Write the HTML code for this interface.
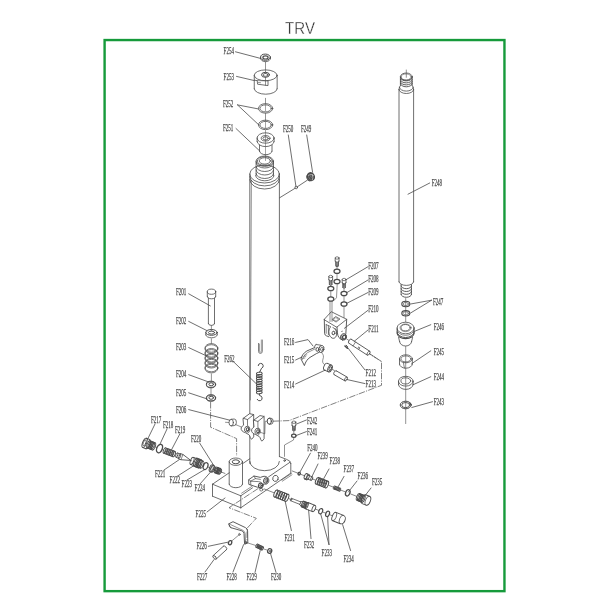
<!DOCTYPE html>
<html lang="en"><head><meta charset="utf-8"><title>TRV</title>
<style>
html,body{margin:0;padding:0;background:#fff}
body{width:600px;height:600px;position:relative;overflow:hidden;font-family:"Liberation Sans",sans-serif}
svg{position:absolute;left:0;top:0;will-change:transform;transform:translateZ(0)}
svg .d{fill:none;stroke:#4a4a4a;stroke-width:0.8;stroke-linecap:round;stroke-linejoin:round}
svg text{font-family:"Liberation Serif",serif;fill:#4a4a4a;stroke:#4a4a4a;stroke-width:0.25px}
svg text.ttl{font-family:"Liberation Sans",sans-serif;font-size:17px;fill:#2a2a2a;stroke:#fff;stroke-width:0.35px}
</style></head><body>
<svg width="600" height="600" viewBox="0 0 600 600">
<text class="ttl" x="285.1" y="33.7" textLength="29.9" lengthAdjust="spacingAndGlyphs">TRV</text>
<g class="d">
<rect x="104.6" y="40.05" width="399.85" height="551.1" fill="none" stroke="#169a3b" stroke-width="2.4" stroke-linejoin="miter"/>
<ellipse cx="264.6" cy="174" rx="14.8" ry="9"/>
<path d="M249.8 176.6 A14.8 9.3 0 0 0 279.4 176.6"/>
<path d="M249.8 179.6 A14.8 9.4 0 0 0 279.4 179.6"/>
<line x1="249.8" y1="174" x2="249.8" y2="463.5"/>
<line x1="279.4" y1="174" x2="279.4" y2="456.5"/>
<line x1="251.4" y1="180.5" x2="250.3" y2="400" stroke-width="0.6"/>
<path d="M249.8 461.5 A14.8 9.2 0 0 0 279.4 461.5"/>
<ellipse cx="264.8" cy="161.2" rx="8.7" ry="5.2"/>
<ellipse cx="264.8" cy="161.1" rx="7.5" ry="4.4"/>
<ellipse cx="264.8" cy="160.9" rx="5.6" ry="3.2"/>
<line x1="256.1" y1="161.2" x2="256.1" y2="175.4"/>
<line x1="273.5" y1="161.2" x2="273.5" y2="175.4"/>
<path d="M256.1 163 A8.7 5 0 0 0 273.5 163"/>
<path d="M256.1 166.5 A8.7 5 0 0 0 273.5 166.5"/>
<path d="M256.1 170 A8.7 5 0 0 0 273.5 170"/>
<path d="M256.1 173.5 A8.7 5 0 0 0 273.5 173.5"/>
<path d="M255.6 175.6 A9.2 5.2 0 0 0 274 175.6"/>
<ellipse cx="265.5" cy="57.2" rx="4.9" ry="3.1" stroke-width="1"/>
<ellipse cx="265.5" cy="57.4" rx="2.6" ry="1.6" stroke-width="1.2"/>
<line x1="260.6" y1="57.2" x2="260.6" y2="58.6"/>
<line x1="270.4" y1="57.2" x2="270.4" y2="58.6"/>
<path d="M260.6 58.6 A4.9 3.1 0 0 0 270.4 58.6"/>
<line x1="265.5" y1="61.8" x2="265.5" y2="73.5" stroke-width="0.6"/>
<ellipse cx="265.7" cy="75.3" rx="11.45" ry="5.4"/>
<line x1="254.25" y1="75.3" x2="254.25" y2="88.8"/>
<line x1="277.15" y1="75.3" x2="277.15" y2="88.8"/>
<path d="M254.25 88.8 A11.45 5.4 0 0 0 277.15 88.8"/>
<ellipse cx="265.5" cy="74.8" rx="4" ry="2.5" stroke-width="1"/>
<ellipse cx="265.5" cy="74.9" rx="2.4" ry="1.4"/>
<path d="M254.4 80.2 L257.2 80.6 L257.6 84.2 L268 85.6 L268 80.9"/>
<line x1="257.2" y1="80.6" x2="267.8" y2="80.9" stroke-width="0.6"/>
<line x1="265.5" y1="77.4" x2="265.5" y2="85.2" stroke-width="0.6"/>
<line x1="258.5" y1="82.5" x2="260.5" y2="82.7" stroke-width="0.6"/>
<line x1="265.5" y1="98.3" x2="265.5" y2="104" stroke-width="0.6"/>
<line x1="265.5" y1="105" x2="265.5" y2="111" stroke-width="0.5"/>
<line x1="265.5" y1="113.5" x2="265.5" y2="121" stroke-width="0.6"/>
<line x1="265.5" y1="122" x2="265.5" y2="128" stroke-width="0.5"/>
<line x1="265.5" y1="130.5" x2="265.5" y2="156" stroke-width="0.5"/>
<ellipse cx="265.6" cy="108.4" rx="7.15" ry="4.75"/>
<ellipse cx="265.6" cy="108.4" rx="5.7" ry="3.55"/>
<ellipse cx="265.6" cy="124.9" rx="7.15" ry="4.75"/>
<ellipse cx="265.6" cy="124.9" rx="5.7" ry="3.55"/>
<ellipse cx="265.6" cy="138" rx="8.5" ry="5.2"/>
<line x1="257.1" y1="138" x2="257.1" y2="141.4"/>
<line x1="274.1" y1="138" x2="274.1" y2="141.4"/>
<path d="M257.1 141.4 A8.5 5.2 0 0 0 274.1 141.4"/>
<ellipse cx="265.6" cy="138.3" rx="4.4" ry="2.7"/>
<ellipse cx="265.6" cy="138.4" rx="2.7" ry="1.6"/>
<line x1="259.5" y1="144.8" x2="259.5" y2="151.2"/>
<line x1="272" y1="144.8" x2="272" y2="151.2"/>
<path d="M259.5 151.2 A6.25 3.5 0 0 0 272 151.2"/>
<line x1="265.5" y1="157" x2="265.5" y2="160.5" stroke-width="0.5"/>
<text x="223.6" y="54.2" textLength="10.3" lengthAdjust="spacingAndGlyphs" font-size="9.4">F254</text>
<line x1="235.5" y1="51.8" x2="260.5" y2="58.4"/>
<text x="223.6" y="79.6" textLength="10.3" lengthAdjust="spacingAndGlyphs" font-size="9.4">F253</text>
<line x1="236.5" y1="76.4" x2="254" y2="80.5"/>
<text x="223" y="106.6" textLength="10.3" lengthAdjust="spacingAndGlyphs" font-size="9.4">F252</text>
<line x1="237.5" y1="104.9" x2="258.2" y2="108.9"/>
<line x1="237.5" y1="104.9" x2="259" y2="125.1"/>
<text x="223" y="131.2" textLength="10.3" lengthAdjust="spacingAndGlyphs" font-size="9.4">F251</text>
<line x1="236" y1="128.5" x2="259.5" y2="150.8"/>
<text x="283" y="132.4" textLength="10.3" lengthAdjust="spacingAndGlyphs" font-size="9.4">F250</text>
<line x1="288.3" y1="135" x2="295.9" y2="186.2"/>
<text x="301" y="132.4" textLength="10.3" lengthAdjust="spacingAndGlyphs" font-size="9.4">F249</text>
<line x1="306.7" y1="135" x2="312.6" y2="172.3"/>
<ellipse cx="296.2" cy="187.5" rx="1.3" ry="1.3"/>
<line x1="279.6" y1="197.8" x2="295.2" y2="188.2"/>
<line x1="297.3" y1="186.8" x2="307.3" y2="180.2"/>
<ellipse cx="310.9" cy="176.6" rx="3.3" ry="3.9" stroke-width="1.5" fill="#777" transform="rotate(-25 310.9 176.6)"/>
<ellipse cx="311.6" cy="176.2" rx="2" ry="2.6" stroke-width="1.1" transform="rotate(-25 311.6 176.2)"/>
<ellipse cx="309.6" cy="177.6" rx="2.6" ry="3.3" stroke-width="1" transform="rotate(-25 309.6 177.6)"/>
<path d="M308.4 175.2 Q311 173.2 313.4 175.4 M312.6 174.6 Q313.4 177.4 312.4 180" stroke="#ddd" stroke-width="0.6"/>
<ellipse cx="211.5" cy="291.7" rx="4.2" ry="2.6"/>
<line x1="207.3" y1="291.7" x2="207.3" y2="296.3"/>
<line x1="215.7" y1="291.7" x2="215.7" y2="296.3"/>
<path d="M207.3 296.3 A4.2 2.5 0 0 0 215.7 296.3"/>
<line x1="208.4" y1="298" x2="208.4" y2="323.6"/>
<line x1="214.5" y1="298" x2="214.5" y2="323.6"/>
<path d="M208.4 323.6 A3.05 1.8 0 0 0 214.5 323.6"/>
<line x1="211.4" y1="325.6" x2="211.4" y2="331" stroke-width="0.6"/>
<ellipse cx="211.5" cy="332.4" rx="5.7" ry="2.9" stroke-width="1"/>
<ellipse cx="211.5" cy="332.6" rx="3.1" ry="1.5" stroke-width="1"/>
<line x1="205.8" y1="332.4" x2="205.8" y2="334.9"/>
<line x1="217.2" y1="332.4" x2="217.2" y2="334.9"/>
<path d="M205.8 334.9 A5.7 2.9 0 0 0 217.2 334.9"/>
<line x1="211.4" y1="338.8" x2="211.4" y2="343.4" stroke-width="0.6"/>
<ellipse cx="211.4" cy="347.9" rx="6.4" ry="4.3" stroke-width="0.75"/>
<ellipse cx="211.4" cy="349" rx="6.4" ry="4.3" stroke-width="0.75"/>
<ellipse cx="211.4" cy="352.8" rx="6.4" ry="4.3" stroke-width="0.75"/>
<ellipse cx="211.4" cy="353.9" rx="6.4" ry="4.3" stroke-width="0.75"/>
<ellipse cx="211.4" cy="357.7" rx="6.4" ry="4.3" stroke-width="0.75"/>
<ellipse cx="211.4" cy="358.8" rx="6.4" ry="4.3" stroke-width="0.75"/>
<ellipse cx="211.4" cy="362.6" rx="6.4" ry="4.3" stroke-width="0.75"/>
<ellipse cx="211.4" cy="363.7" rx="6.4" ry="4.3" stroke-width="0.75"/>
<ellipse cx="211.4" cy="367.5" rx="6.4" ry="4.3" stroke-width="0.75"/>
<ellipse cx="211.4" cy="368.6" rx="6.4" ry="4.3" stroke-width="0.75"/>
<line x1="211.4" y1="374" x2="211.4" y2="381" stroke-width="0.6"/>
<ellipse cx="211" cy="384.3" rx="4.65" ry="3.1" stroke-width="1"/>
<ellipse cx="211" cy="384.9" rx="4.5" ry="3" stroke-width="0.7"/>
<ellipse cx="211.2" cy="384.3" rx="2.3" ry="1.5" stroke-width="1"/>
<ellipse cx="211" cy="397.8" rx="4.65" ry="3.1" stroke-width="1"/>
<ellipse cx="211" cy="398.4" rx="4.5" ry="3" stroke-width="0.7"/>
<ellipse cx="211.2" cy="397.8" rx="2.3" ry="1.5" stroke-width="1"/>
<line x1="211" y1="388.5" x2="211" y2="394.2" stroke-width="0.6"/>
<path d="M210.6 402 L210.6 427.2 L236.6 438.6 L236.6 456" stroke-width="0.7" stroke-dasharray="6.5 1.2 1.2 1.2" stroke-linecap="butt"/>
<text x="176" y="295" textLength="10.3" lengthAdjust="spacingAndGlyphs" font-size="9.4">F201</text>
<line x1="188.7" y1="293.8" x2="210.3" y2="305.9"/>
<text x="176" y="323.8" textLength="10.3" lengthAdjust="spacingAndGlyphs" font-size="9.4">F202</text>
<line x1="188.7" y1="321.4" x2="207.3" y2="330.8"/>
<text x="176" y="350.2" textLength="10.3" lengthAdjust="spacingAndGlyphs" font-size="9.4">F203</text>
<line x1="188.7" y1="347.6" x2="207.1" y2="356.2"/>
<text x="176" y="377.2" textLength="10.3" lengthAdjust="spacingAndGlyphs" font-size="9.4">F204</text>
<line x1="188.7" y1="374.7" x2="207.9" y2="381.7"/>
<text x="176" y="395.7" textLength="10.3" lengthAdjust="spacingAndGlyphs" font-size="9.4">F205</text>
<line x1="188.7" y1="392.8" x2="207.3" y2="399"/>
<text x="176" y="413.4" textLength="10.3" lengthAdjust="spacingAndGlyphs" font-size="9.4">F206</text>
<line x1="188.7" y1="409.6" x2="229.8" y2="420.2"/>
<text x="224.3" y="361.8" textLength="10.3" lengthAdjust="spacingAndGlyphs" font-size="9.4">F262</text>
<line x1="234" y1="362.2" x2="258" y2="385.4"/>
<ellipse cx="231.2" cy="422.6" rx="2.2" ry="3.3"/>
<path d="M231.2 419.3 L234.2 419.0 A2.2 3.3 0 0 1 234.2 425.6 L231.2 425.9"/>
<line x1="225.5" y1="422.3" x2="228.7" y2="422.5" stroke-width="0.6"/>
<path d="M258.5 343.4 L258.5 351.4 A1.9 2 0 0 0 262.3 351.4 L262.3 340" stroke-width="0.7"/>
<path d="M259.5 344 L259.5 351.2 A0.9 1 0 0 0 261.3 351.2 L261.3 340" stroke-width="0.5"/>
<path d="M258.2 365.6 A2.5 2.5 0 1 1 261.6 368.2 L259.4 372.4" stroke-width="1"/>
<ellipse cx="259.3" cy="373.6" rx="2.9" ry="1.5" stroke-width="0.95" transform="rotate(-8 259.3 373.6)"/>
<ellipse cx="259.3" cy="375.95" rx="2.9" ry="1.5" stroke-width="0.95" transform="rotate(-8 259.3 375.95)"/>
<ellipse cx="259.3" cy="378.3" rx="2.9" ry="1.5" stroke-width="0.95" transform="rotate(-8 259.3 378.3)"/>
<ellipse cx="259.3" cy="380.65" rx="2.9" ry="1.5" stroke-width="0.95" transform="rotate(-8 259.3 380.65)"/>
<ellipse cx="259.3" cy="383" rx="2.9" ry="1.5" stroke-width="0.95" transform="rotate(-8 259.3 383)"/>
<ellipse cx="259.3" cy="385.35" rx="2.9" ry="1.5" stroke-width="0.95" transform="rotate(-8 259.3 385.35)"/>
<ellipse cx="259.3" cy="387.7" rx="2.9" ry="1.5" stroke-width="0.95" transform="rotate(-8 259.3 387.7)"/>
<ellipse cx="259.3" cy="390.05" rx="2.9" ry="1.5" stroke-width="0.95" transform="rotate(-8 259.3 390.05)"/>
<ellipse cx="259.3" cy="392.4" rx="2.9" ry="1.5" stroke-width="0.95" transform="rotate(-8 259.3 392.4)"/>
<path d="M259.3 393.6 L259.6 395.6 A2.6 2.6 0 1 1 257.2 399.4" stroke-width="1"/>
<path d="M243.3 418.3 L249.55 413.7 L253.7 414.55 L253.7 436.9 L251.7 439.2 C249.9 438.9 250.5 435.9 248.9 434.7 L245.4 432.7 C242.7 431.9 240.7 430.3 241.2 427.9 C241.5 426.5 242.7 425.9 243.3 425.4 Z" stroke-width="0.85" fill="#fff"/>
<path d="M243.3 418.3 L247.5 419.55 L253.7 414.55" stroke-width="0.8"/>
<path d="M247.5 419.55 L247.5 425.7 C250.5 426.7 250.9 431.5 248.1 432.9" stroke-width="0.7"/>
<ellipse cx="246.9" cy="429.2" rx="2.3" ry="2.9" stroke-width="0.8" transform="rotate(15 246.9 429.2)"/>
<ellipse cx="247.5" cy="429.3" rx="1.2" ry="1.5" stroke-width="1" transform="rotate(15 247.5 429.3)"/>
<path d="M253.7 420.2 L259.95 415.6 L264.1 416.45 L264.1 438.8 L262.1 441.1 C260.3 440.8 260.9 437.8 259.3 436.6 L255.8 434.6 C253.1 433.8 251.1 432.2 251.6 429.8 C251.9 428.4 253.1 427.8 253.7 427.3 Z" stroke-width="0.85" fill="#fff"/>
<path d="M253.7 420.2 L257.9 421.45 L264.1 416.45" stroke-width="0.8"/>
<path d="M257.9 421.45 L257.9 427.6 C260.9 428.6 261.3 433.4 258.5 434.8" stroke-width="0.7"/>
<ellipse cx="257.3" cy="431.1" rx="2.3" ry="2.9" stroke-width="0.8" transform="rotate(15 257.3 431.1)"/>
<ellipse cx="257.9" cy="431.2" rx="1.2" ry="1.5" stroke-width="1" transform="rotate(15 257.9 431.2)"/>
<ellipse cx="269.3" cy="421.2" rx="2.1" ry="3" stroke-width="1"/>
<path d="M269.3 418.2 L271 418.2 A2.1 3 0 0 1 271 424.2 L269.3 424.2"/>
<line x1="235.6" y1="424.6" x2="241.4" y2="427" stroke-width="0.6"/>
<path d="M259.4 432 L264.8 433.8 L265.2 421.3 L267 421.2" stroke-width="0.6"/>
<path d="M272.8 421.2 L289 420.6 L381.5 385.3 L381.5 361.4 L370.2 354.4" stroke-width="0.7" stroke-dasharray="6.5 1.2 1.2 1.2" stroke-linecap="butt"/>
<line x1="212.5" y1="484.2" x2="229.2" y2="472.81"/>
<line x1="242.5" y1="463.74" x2="249.8" y2="458.76"/>
<line x1="212.5" y1="484.2" x2="240.8" y2="495.8"/>
<line x1="240.8" y1="495.8" x2="252.5" y2="487.82"/>
<line x1="268.5" y1="476.91" x2="290" y2="462.25"/>
<path d="M279.4 456.6 L286.6 459.4 Q290.6 460.4 290.8 463.5"/>
<line x1="212.5" y1="484.2" x2="212.5" y2="496.2"/>
<line x1="240.8" y1="495.8" x2="240.8" y2="507.8"/>
<line x1="290.8" y1="463.3" x2="290.8" y2="473.1"/>
<line x1="212.5" y1="496.2" x2="240.8" y2="507.8"/>
<line x1="240.8" y1="507.8" x2="290.8" y2="473.1"/>
<ellipse cx="284.6" cy="460.6" rx="0.8" ry="0.8" stroke-width="0.9"/>
<ellipse cx="275.5" cy="478.4" rx="2.7" ry="3.1" transform="rotate(20 275.5 478.4)"/>
<line x1="281.5" y1="480" x2="291.4" y2="473.6" stroke-width="0.6"/>
<line x1="282.3" y1="481.2" x2="292" y2="474.8" stroke-width="0.6"/>
<ellipse cx="235.85" cy="461.7" rx="6.65" ry="3.7"/>
<ellipse cx="235.85" cy="461.8" rx="3.6" ry="2" stroke-width="1"/>
<line x1="229.2" y1="461.7" x2="229.2" y2="484.2"/>
<line x1="242.5" y1="461.7" x2="242.5" y2="484.2"/>
<path d="M229.2 484.2 A6.65 3.5 0 0 0 242.5 484.2"/>
<text x="195.6" y="517.2" textLength="10.3" lengthAdjust="spacingAndGlyphs" font-size="9.4">F225</text>
<line x1="207" y1="512" x2="225" y2="498"/>
<g transform="translate(148.3 444.3) rotate(20.81)">
<line x1="-4" y1="-5" x2="-0.6" y2="-5" stroke-width="0.9"/>
<line x1="-4" y1="5" x2="-0.6" y2="5" stroke-width="0.9"/>
<ellipse cx="-4" cy="0" rx="2" ry="5" stroke-width="0.9"/>
<path d="M-0.6 -5 A2 5 0 0 1 -0.6 5" stroke-width="0.9"/>
<ellipse cx="-4" cy="0" rx="1.3" ry="3.2" stroke-width="0.8"/>
<ellipse cx="0.5" cy="0" rx="1.6" ry="3.9" stroke-width="0.9"/>
<ellipse cx="1.8" cy="0" rx="1.6" ry="3.9" stroke-width="0.9"/>
<ellipse cx="3.1" cy="0" rx="1.6" ry="3.9" stroke-width="0.9"/>
<ellipse cx="4.4" cy="0" rx="1.6" ry="3.9" stroke-width="0.9"/>
<ellipse cx="5.7" cy="0" rx="1.6" ry="3.9" stroke-width="0.9"/>
<line x1="-0.6" y1="-3.9" x2="5.7" y2="-3.9" stroke-width="0.6"/>
<line x1="-0.6" y1="3.9" x2="5.7" y2="3.9" stroke-width="0.6"/>
<ellipse cx="12" cy="0" rx="2.7" ry="4.4" stroke-width="1.3"/>
<ellipse cx="17.5" cy="0" rx="1.22" ry="2.9" stroke-width="0.9"/>
<ellipse cx="19.17" cy="0" rx="1.22" ry="2.9" stroke-width="0.9"/>
<ellipse cx="20.83" cy="0" rx="1.22" ry="2.9" stroke-width="0.9"/>
<ellipse cx="22.5" cy="0" rx="1.22" ry="2.9" stroke-width="0.9"/>
<ellipse cx="24.17" cy="0" rx="1.22" ry="2.9" stroke-width="0.9"/>
<ellipse cx="25.83" cy="0" rx="1.22" ry="2.9" stroke-width="0.9"/>
<ellipse cx="27.5" cy="0" rx="1.22" ry="2.9" stroke-width="0.9"/>
<line x1="17.5" y1="-2.9" x2="27.5" y2="-2.9" stroke-width="0.6"/>
<line x1="17.5" y1="2.9" x2="27.5" y2="2.9" stroke-width="0.6"/>
<line x1="30.5" y1="-2.3" x2="33.5" y2="-2.3"/>
<line x1="30.5" y1="2.3" x2="33.5" y2="2.3"/>
<ellipse cx="30.5" cy="0" rx="0.97" ry="2.3"/>
<path d="M33.5 -2.3 A0.97 2.3 0 0 1 33.5 2.3"/>
<path d="M33.5 -2.8 L36 -2.8 L44.5 -0.3 L44.5 0.3 L36 2.8 L33.5 2.8 Z"/>
<line x1="36" y1="-2.8" x2="36" y2="2.8" stroke-width="0.6"/>
<line x1="46.8" y1="-3.8" x2="50" y2="-3.8" stroke-width="0.9"/>
<line x1="46.8" y1="3.8" x2="50" y2="3.8" stroke-width="0.9"/>
<ellipse cx="46.8" cy="0" rx="1.6" ry="3.8" stroke-width="0.9"/>
<path d="M50 -3.8 A1.6 3.8 0 0 1 50 3.8" stroke-width="0.9"/>
<ellipse cx="51" cy="0" rx="1.8" ry="4.4" stroke-width="0.9"/>
<ellipse cx="52.4" cy="0" rx="1.8" ry="4.4" stroke-width="0.9"/>
<ellipse cx="53.8" cy="0" rx="1.8" ry="4.4" stroke-width="0.9"/>
<ellipse cx="55.2" cy="0" rx="1.8" ry="4.4" stroke-width="0.9"/>
<line x1="50" y1="-4.4" x2="55.2" y2="-4.4" stroke-width="0.6"/>
<line x1="50" y1="4.4" x2="55.2" y2="4.4" stroke-width="0.6"/>
<line x1="55.2" y1="-3.8" x2="57.3" y2="-3.8" stroke-width="0.8"/>
<line x1="55.2" y1="3.8" x2="57.3" y2="3.8" stroke-width="0.8"/>
<ellipse cx="57.3" cy="0" rx="1.6" ry="3.8" stroke-width="0.8"/>
<path d="M55.2 -3.8 A1.6 3.8 0 0 0 55.2 3.8" stroke-width="0.8"/>
<ellipse cx="61.3" cy="0" rx="2.2" ry="3.6" stroke-width="1.2"/>
<ellipse cx="67.8" cy="0" rx="2.2" ry="3.7" stroke-width="1"/>
<ellipse cx="68.9" cy="0" rx="2.2" ry="3.7" stroke-width="0.8"/>
<ellipse cx="68.3" cy="0" rx="1.1" ry="2" stroke-width="0.7"/>
<ellipse cx="72.4" cy="0" rx="1.4" ry="3.1" stroke-width="1"/>
<ellipse cx="73.5" cy="0" rx="1.4" ry="3.1" stroke-width="1"/>
<ellipse cx="74.6" cy="0" rx="1.4" ry="3.1" stroke-width="1"/>
<ellipse cx="75.7" cy="0" rx="1.4" ry="3.1" stroke-width="1"/>
<ellipse cx="76.8" cy="0" rx="1.3" ry="2.9" stroke-width="0.8"/>
<line x1="6.5" y1="0" x2="9" y2="0" stroke-width="0.6"/>
<line x1="14.8" y1="0" x2="16" y2="0" stroke-width="0.6"/>
<line x1="44.5" y1="0" x2="46.5" y2="0" stroke-width="0.6"/>
<line x1="58.5" y1="0" x2="59.5" y2="0" stroke-width="0.6"/>
<line x1="63.5" y1="0" x2="65.5" y2="0" stroke-width="0.6"/>
<line x1="78" y1="0" x2="82" y2="0" stroke-width="0.6"/>
</g>
<text x="151" y="423" textLength="10.3" lengthAdjust="spacingAndGlyphs" font-size="9.4">F217</text>
<line x1="155" y1="424" x2="147.4" y2="439.6"/>
<text x="163" y="428" textLength="10.3" lengthAdjust="spacingAndGlyphs" font-size="9.4">F218</text>
<line x1="167" y1="429" x2="159.6" y2="445"/>
<text x="175" y="433" textLength="10.3" lengthAdjust="spacingAndGlyphs" font-size="9.4">F219</text>
<line x1="180" y1="433.6" x2="171.6" y2="449.6"/>
<text x="191" y="442" textLength="10.3" lengthAdjust="spacingAndGlyphs" font-size="9.4">F220</text>
<line x1="199.6" y1="443" x2="215.6" y2="468.4"/>
<text x="155" y="476.6" textLength="10.3" lengthAdjust="spacingAndGlyphs" font-size="9.4">F221</text>
<line x1="164" y1="470" x2="179.3" y2="459.6"/>
<text x="169.6" y="483" textLength="10.3" lengthAdjust="spacingAndGlyphs" font-size="9.4">F222</text>
<line x1="177" y1="476.4" x2="193.3" y2="466"/>
<text x="181.6" y="487.2" textLength="10.3" lengthAdjust="spacingAndGlyphs" font-size="9.4">F223</text>
<line x1="187" y1="480" x2="204.2" y2="469.8"/>
<text x="194.6" y="491.2" textLength="10.3" lengthAdjust="spacingAndGlyphs" font-size="9.4">F224</text>
<line x1="200" y1="484" x2="210.6" y2="472"/>
<ellipse cx="406.3" cy="76.7" rx="5.9" ry="3.7"/>
<ellipse cx="406.3" cy="76.9" rx="4.9" ry="3" stroke-width="0.6"/>
<line x1="400.4" y1="76.7" x2="400.4" y2="85.6"/>
<line x1="412.2" y1="76.7" x2="412.2" y2="85.6"/>
<path d="M400.4 77.5 A5.9 3.4 0 0 0 412.2 77.5" stroke-width="0.9"/>
<path d="M400.4 79.5 A5.9 3.4 0 0 0 412.2 79.5" stroke-width="0.9"/>
<path d="M400.4 81.5 A5.9 3.4 0 0 0 412.2 81.5" stroke-width="0.9"/>
<path d="M400.4 83.4 A5.9 3.4 0 0 0 412.2 83.4" stroke-width="0.9"/>
<line x1="406.3" y1="70" x2="406.3" y2="77.3" stroke-width="0.6"/>
<path d="M400.4 85.6 Q399.1 86.4 399 89.4"/>
<path d="M412.2 85.6 Q413.5 86.4 413.6 89.4"/>
<path d="M399.4 87.2 A6.9 3.9 0 0 0 413.2 87.2"/>
<path d="M399 89.6 A7.3 3.9 0 0 0 413.6 89.6"/>
<line x1="399" y1="89.4" x2="399" y2="281.8"/>
<line x1="413.6" y1="89.4" x2="413.6" y2="281.8"/>
<path d="M399 281.8 A7.3 3.6 0 0 0 413.6 281.8"/>
<line x1="401.1" y1="284.6" x2="401.1" y2="294.4"/>
<line x1="411.5" y1="284.6" x2="411.5" y2="294.4"/>
<path d="M401.1 285.8 A5.2 2.9 0 0 0 411.5 285.8" stroke-width="0.9"/>
<path d="M401.1 288.6 A5.2 2.9 0 0 0 411.5 288.6" stroke-width="0.9"/>
<path d="M401.1 291.4 A5.2 2.9 0 0 0 411.5 291.4" stroke-width="0.9"/>
<path d="M401.1 294.4 A5.2 2.9 0 0 0 411.5 294.4" stroke-width="0.9"/>
<text x="431.8" y="186.2" textLength="10.3" lengthAdjust="spacingAndGlyphs" font-size="9.4">F248</text>
<line x1="429.7" y1="183" x2="408" y2="194.2"/>
<line x1="405.7" y1="298.5" x2="405.7" y2="322" stroke-width="0.6"/>
<line x1="405.7" y1="346.5" x2="405.7" y2="423.6" stroke-width="0.6"/>
<ellipse cx="405.8" cy="304" rx="4" ry="2.7" stroke-width="1.1"/>
<ellipse cx="405.8" cy="304" rx="2.6" ry="1.6" stroke-width="0.6"/>
<ellipse cx="405.8" cy="313.3" rx="4" ry="2.7" stroke-width="1.1"/>
<ellipse cx="405.8" cy="313.3" rx="2.6" ry="1.6" stroke-width="0.6"/>
<text x="433" y="305" textLength="10.3" lengthAdjust="spacingAndGlyphs" font-size="9.4">F247</text>
<line x1="431.6" y1="300.2" x2="410.6" y2="304"/>
<line x1="431.6" y1="300.2" x2="410.6" y2="313"/>
<ellipse cx="405.6" cy="328" rx="8.5" ry="5.8"/>
<ellipse cx="405.6" cy="327.7" rx="4.6" ry="3.2"/>
<ellipse cx="405.6" cy="327.8" rx="5.6" ry="3.9" stroke-width="0.5"/>
<line x1="397.1" y1="328" x2="397.1" y2="333"/>
<line x1="414.1" y1="328" x2="414.1" y2="333"/>
<path d="M397.1 329.6 A8.5 5.7 0 0 0 414.1 329.6" stroke-width="0.7"/>
<path d="M397.1 331.9 A8.5 5.6 0 0 0 414.1 331.9" stroke-width="1"/>
<path d="M397.1 333 A8.5 5.6 0 0 0 414.1 333" stroke-width="1.1"/>
<line x1="398.6" y1="337.4" x2="399.6" y2="341.6"/>
<line x1="412.6" y1="337.4" x2="411.6" y2="341.6"/>
<path d="M399.6 341.6 A6 4.4 0 0 0 411.6 341.6"/>
<text x="433.8" y="329.6" textLength="10.3" lengthAdjust="spacingAndGlyphs" font-size="9.4">F246</text>
<line x1="430.8" y1="324.7" x2="413.9" y2="331.6"/>
<ellipse cx="405.9" cy="358.8" rx="6.4" ry="4"/>
<ellipse cx="405.9" cy="358.9" rx="5" ry="3" stroke-width="0.7"/>
<line x1="399.5" y1="358.8" x2="399.5" y2="364.2"/>
<line x1="412.3" y1="358.8" x2="412.3" y2="364.2"/>
<path d="M399.5 364.2 A6.4 4 0 0 0 412.3 364.2"/>
<line x1="403.4" y1="362.6" x2="404.4" y2="368" stroke-width="0.7"/>
<text x="433.8" y="354.6" textLength="10.3" lengthAdjust="spacingAndGlyphs" font-size="9.4">F245</text>
<line x1="430.8" y1="350.8" x2="411.7" y2="363.7"/>
<ellipse cx="405.8" cy="381.2" rx="7.3" ry="4.9"/>
<ellipse cx="405.8" cy="380.9" rx="4.9" ry="3.1"/>
<line x1="398.5" y1="381.2" x2="398.5" y2="384.5"/>
<line x1="413.1" y1="381.2" x2="413.1" y2="384.5"/>
<path d="M398.5 384.5 A7.3 4.9 0 0 0 413.1 384.5"/>
<text x="433.8" y="380" textLength="10.3" lengthAdjust="spacingAndGlyphs" font-size="9.4">F244</text>
<line x1="430.8" y1="376.7" x2="413.2" y2="384.7"/>
<ellipse cx="405.7" cy="405" rx="5.5" ry="3.8" stroke-width="1"/>
<ellipse cx="405.7" cy="405.1" rx="4" ry="2.6" stroke-width="0.9"/>
<path d="M409.8 403 L411 404.6" stroke-width="1.4"/>
<text x="433.8" y="405.4" textLength="10.3" lengthAdjust="spacingAndGlyphs" font-size="9.4">F243</text>
<line x1="432.5" y1="401.7" x2="411.8" y2="407.5"/>
<ellipse cx="337.1" cy="258" rx="1.9" ry="1.2" stroke-width="0.7"/>
<line x1="335.2" y1="258" x2="335.2" y2="261.2" stroke-width="0.8"/>
<line x1="339" y1="258" x2="339" y2="261.2" stroke-width="0.8"/>
<path d="M335.2 261.2 A1.9 1 0 0 0 339 261.2" stroke-width="0.8"/>
<path d="M335.7 262.4 A1.4 0.8 0 0 0 338.5 262.4" stroke-width="0.9"/>
<path d="M335.7 263.55 A1.4 0.8 0 0 0 338.5 263.55" stroke-width="0.9"/>
<path d="M335.7 264.7 A1.4 0.8 0 0 0 338.5 264.7" stroke-width="0.9"/>
<path d="M335.7 265.85 A1.4 0.8 0 0 0 338.5 265.85" stroke-width="0.9"/>
<line x1="335.7" y1="261.8" x2="335.7" y2="266" stroke-width="0.6"/>
<line x1="338.5" y1="261.8" x2="338.5" y2="266" stroke-width="0.6"/>
<ellipse cx="337" cy="271.2" rx="3" ry="2.2" stroke-width="1.25"/>
<ellipse cx="337" cy="281.5" rx="3" ry="2.2" stroke-width="1.25"/>
<line x1="337" y1="267" x2="337" y2="268.8" stroke-width="0.6"/>
<line x1="337" y1="273.6" x2="337" y2="279" stroke-width="0.6"/>
<path d="M337.2 284 L336.5 297.8 L334 300.4" stroke-width="0.6"/>
<ellipse cx="330.7" cy="276.5" rx="1.9" ry="1.2" stroke-width="0.7"/>
<line x1="328.8" y1="276.5" x2="328.8" y2="279.7" stroke-width="0.8"/>
<line x1="332.6" y1="276.5" x2="332.6" y2="279.7" stroke-width="0.8"/>
<path d="M328.8 279.7 A1.9 1 0 0 0 332.6 279.7" stroke-width="0.8"/>
<path d="M329.3 280.9 A1.4 0.8 0 0 0 332.1 280.9" stroke-width="0.9"/>
<path d="M329.3 282.05 A1.4 0.8 0 0 0 332.1 282.05" stroke-width="0.9"/>
<path d="M329.3 283.2 A1.4 0.8 0 0 0 332.1 283.2" stroke-width="0.9"/>
<path d="M329.3 284.35 A1.4 0.8 0 0 0 332.1 284.35" stroke-width="0.9"/>
<line x1="329.3" y1="280.3" x2="329.3" y2="284.5" stroke-width="0.6"/>
<line x1="332.1" y1="280.3" x2="332.1" y2="284.5" stroke-width="0.6"/>
<ellipse cx="330.8" cy="288.5" rx="3" ry="2.2" stroke-width="1.25"/>
<ellipse cx="330.8" cy="299" rx="3" ry="2.2" stroke-width="1.25"/>
<line x1="330.8" y1="285.5" x2="330.8" y2="286.2" stroke-width="0.6"/>
<line x1="330.8" y1="291" x2="330.8" y2="296.6" stroke-width="0.6"/>
<line x1="330" y1="301.4" x2="330" y2="321.5" stroke-width="0.6"/>
<line x1="332" y1="301.4" x2="332" y2="321.5" stroke-width="0.6"/>
<ellipse cx="344.1" cy="279.5" rx="1.9" ry="1.2" stroke-width="0.7"/>
<line x1="342.2" y1="279.5" x2="342.2" y2="282.7" stroke-width="0.8"/>
<line x1="346" y1="279.5" x2="346" y2="282.7" stroke-width="0.8"/>
<path d="M342.2 282.7 A1.9 1 0 0 0 346 282.7" stroke-width="0.8"/>
<path d="M342.7 283.9 A1.4 0.8 0 0 0 345.5 283.9" stroke-width="0.9"/>
<path d="M342.7 285.05 A1.4 0.8 0 0 0 345.5 285.05" stroke-width="0.9"/>
<path d="M342.7 286.2 A1.4 0.8 0 0 0 345.5 286.2" stroke-width="0.9"/>
<path d="M342.7 287.35 A1.4 0.8 0 0 0 345.5 287.35" stroke-width="0.9"/>
<line x1="342.7" y1="283.3" x2="342.7" y2="287.5" stroke-width="0.6"/>
<line x1="345.5" y1="283.3" x2="345.5" y2="287.5" stroke-width="0.6"/>
<ellipse cx="344" cy="293.5" rx="3" ry="2.2" stroke-width="1.25"/>
<ellipse cx="344" cy="304" rx="3" ry="2.2" stroke-width="1.25"/>
<line x1="344" y1="288.6" x2="344" y2="291" stroke-width="0.6"/>
<line x1="344" y1="296" x2="344" y2="301.6" stroke-width="0.6"/>
<line x1="344" y1="306.4" x2="344" y2="317.6" stroke-width="0.6"/>
<text x="368.3" y="268.6" textLength="10.3" lengthAdjust="spacingAndGlyphs" font-size="9.4">F207</text>
<line x1="368" y1="266.7" x2="346.2" y2="279.6"/>
<text x="368.3" y="282" textLength="10.3" lengthAdjust="spacingAndGlyphs" font-size="9.4">F208</text>
<line x1="368" y1="280" x2="347.2" y2="292.4"/>
<text x="368.3" y="294.8" textLength="10.3" lengthAdjust="spacingAndGlyphs" font-size="9.4">F209</text>
<line x1="368" y1="292.5" x2="347.4" y2="303"/>
<text x="368.3" y="312" textLength="10.3" lengthAdjust="spacingAndGlyphs" font-size="9.4">F210</text>
<line x1="368" y1="310.3" x2="344.4" y2="328.3"/>
<text x="368.3" y="332.4" textLength="10.3" lengthAdjust="spacingAndGlyphs" font-size="9.4">F211</text>
<line x1="368" y1="330" x2="354.2" y2="341.3"/>
<text x="365.6" y="375.8" textLength="10.3" lengthAdjust="spacingAndGlyphs" font-size="9.4">F212</text>
<line x1="365" y1="370" x2="347.8" y2="347.8"/>
<text x="365.6" y="386.8" textLength="10.3" lengthAdjust="spacingAndGlyphs" font-size="9.4">F213</text>
<line x1="365" y1="383.6" x2="347.2" y2="379.6"/>
<text x="284" y="387.6" textLength="10.3" lengthAdjust="spacingAndGlyphs" font-size="9.4">F214</text>
<line x1="295.6" y1="384" x2="325" y2="370.2"/>
<text x="284" y="363.4" textLength="10.3" lengthAdjust="spacingAndGlyphs" font-size="9.4">F215</text>
<line x1="295.6" y1="360" x2="302" y2="357"/>
<text x="284" y="345.4" textLength="10.3" lengthAdjust="spacingAndGlyphs" font-size="9.4">F216</text>
<path d="M295.6 342.4 L308 339.6 L313 346"/>
<text x="307" y="424" textLength="10.3" lengthAdjust="spacingAndGlyphs" font-size="9.4">F242</text>
<line x1="306.4" y1="420" x2="296.6" y2="424"/>
<text x="307" y="435" textLength="10.3" lengthAdjust="spacingAndGlyphs" font-size="9.4">F241</text>
<line x1="306.4" y1="431.6" x2="296" y2="435.6"/>
<path d="M324.3 319.3 L331.3 311.7 L346.7 319.3 L337 327 Z"/>
<path d="M332.3 319.3 L335.7 316.5 L340 319 L336.4 321.8 Z" stroke-width="0.7"/>
<path d="M333.4 319.4 L335.8 317.6 L338.6 319.2 L336.4 320.8 Z" stroke-width="0.5"/>
<path d="M324.3 319.3 L324.6 333.6 Q324.8 335.2 326.4 335.8 L328.6 336.6" stroke-width="0.9"/>
<path d="M326.2 324.6 L326.2 333.4 M328.4 325.6 L328.4 334.8 M326.2 324.6 L330.6 326.6" stroke-width="0.7"/>
<path d="M330.2 327.4 C327.8 330 328.4 336.6 332.4 338.2 C336 339 337.2 334.6 336.4 331.8 C335.8 329.2 334 328 333 327.6" stroke-width="0.9"/>
<ellipse cx="333.5" cy="333" rx="1.4" ry="1.9" stroke-width="0.9" transform="rotate(15 333.5 333)"/>
<path d="M337 327 L337.4 332.6 C337.6 336.4 339.4 339.4 342.6 340" stroke-width="0.9"/>
<path d="M335.2 328.4 C336.6 329.6 337 331.4 337.2 333" stroke-width="0.7"/>
<path d="M346.7 319.3 L345.8 334.2" stroke-width="0.9"/>
<ellipse cx="343.6" cy="336.9" rx="2.8" ry="3.3" stroke-width="0.9" transform="rotate(20 343.6 336.9)"/>
<ellipse cx="344.2" cy="337.1" rx="1.6" ry="2" stroke-width="1.4" transform="rotate(20 344.2 337.1)"/>
<path d="M341 335.4 C340 337 340.4 339.6 342.6 340" stroke-width="0.7"/>
<line x1="341.5" y1="331.5" x2="342.5" y2="331.2" stroke-width="0.6"/>
<path d="M316 344.5 L320.8 345.2" stroke-width="0.8"/>
<ellipse cx="321.4" cy="349" rx="2.5" ry="3.6" stroke-width="0.9" transform="rotate(15 321.4 349)"/>
<ellipse cx="321.8" cy="349.1" rx="1.2" ry="1.9" stroke-width="0.7" transform="rotate(15 321.8 349.1)"/>
<ellipse cx="317.4" cy="349.4" rx="1.5" ry="1.9" stroke-width="0.9" transform="rotate(10 317.4 349.4)"/>
<path d="M316 344.5 C314.6 345.4 314.4 347 315 347.4 L306.8 351 C303.4 353 301.6 356 301 359 L304.4 365.6 C305.4 362 307.4 359 310 357.4 L316.4 353.6 L319.4 352.2" stroke-width="0.9"/>
<path d="M314.8 349 L307.6 352.6 C304.8 354.4 303 357 302.4 359.4" stroke-width="0.6"/>
<path d="M302.6 358.6 L305 358 M303.4 357 L305.8 356.4 M304.4 355.4 L306.8 354.8" stroke-width="0.5"/>
<path d="M321.6 352.6 C323.8 354.8 323.8 356.6 323 359 C322.2 361.4 322.4 363.4 324.6 364.6" stroke-width="0.6"/>
<g transform="translate(328 367.6) rotate(24)">
<line x1="-2.2" y1="-3.7" x2="2.2" y2="-3.7" stroke-width="0.9"/>
<line x1="-2.2" y1="3.7" x2="2.2" y2="3.7" stroke-width="0.9"/>
<ellipse cx="2.2" cy="0" rx="2.04" ry="3.7" stroke-width="0.9"/>
<path d="M-2.2 -3.7 A2.04 3.7 0 0 0 -2.2 3.7" stroke-width="0.9"/>
<ellipse cx="2.4" cy="0" rx="1.1" ry="2" stroke-width="1"/>
<line x1="4.6" y1="0" x2="7" y2="0" stroke-width="0.6"/>
</g>
<g transform="translate(334.6 372.4) rotate(30)">
<line x1="0.6" y1="-2.2" x2="13.2" y2="-2.2" stroke-width="0.8"/>
<line x1="0.6" y1="2.2" x2="13.2" y2="2.2" stroke-width="0.8"/>
<ellipse cx="13.2" cy="0" rx="1.1" ry="2.2" stroke-width="0.8"/>
<path d="M0.6 -2.2 A1.1 2.2 0 0 0 0.6 2.2" stroke-width="0.8"/>
</g>
<g transform="translate(349.6 340.9) rotate(33)">
<line x1="0.4" y1="-2.3" x2="22.6" y2="-2.3" stroke-width="0.8"/>
<line x1="0.4" y1="2.3" x2="22.6" y2="2.3" stroke-width="0.8"/>
<ellipse cx="22.6" cy="0" rx="1.15" ry="2.3" stroke-width="0.8"/>
<path d="M0.4 -2.3 A1.15 2.3 0 0 0 0.4 2.3" stroke-width="0.8"/>
<line x1="5.6" y1="-2.3" x2="5.6" y2="2.3" stroke-width="0.6"/>
<ellipse cx="11.5" cy="0.6" rx="0.9" ry="0.5" stroke-width="0.6"/>
<line x1="-3.6" y1="0" x2="-0.8" y2="0" stroke-width="0.6"/>
<line x1="24" y1="0" x2="25.5" y2="0" stroke-width="0.6"/>
</g>
<path d="M345 346 L347.4 348.2" stroke-width="1.6"/>
<path d="M346.2 345.2 L347.6 346.6" stroke-width="0.9"/>
<path d="M371 354.6 L381.2 361.4" stroke-width="0.7" stroke-dasharray="6.5 1.2 1.2 1.2" stroke-linecap="butt"/>
<ellipse cx="293.9" cy="422.2" rx="1.9" ry="1.2" stroke-width="0.7"/>
<line x1="292" y1="422.2" x2="292" y2="425.4" stroke-width="0.8"/>
<line x1="295.8" y1="422.2" x2="295.8" y2="425.4" stroke-width="0.8"/>
<path d="M292 425.4 A1.9 1 0 0 0 295.8 425.4" stroke-width="0.8"/>
<path d="M292.5 426.6 A1.4 0.8 0 0 0 295.3 426.6" stroke-width="0.9"/>
<path d="M292.5 427.75 A1.4 0.8 0 0 0 295.3 427.75" stroke-width="0.9"/>
<path d="M292.5 428.9 A1.4 0.8 0 0 0 295.3 428.9" stroke-width="0.9"/>
<path d="M292.5 430.05 A1.4 0.8 0 0 0 295.3 430.05" stroke-width="0.9"/>
<line x1="292.5" y1="426" x2="292.5" y2="430.2" stroke-width="0.6"/>
<line x1="295.3" y1="426" x2="295.3" y2="430.2" stroke-width="0.6"/>
<ellipse cx="293.8" cy="435.8" rx="2.2" ry="1.6" stroke-width="1.3"/>
<line x1="293.8" y1="431" x2="293.8" y2="433.8" stroke-width="0.6"/>
<path d="M293.8 438 L293.5 440 L284.5 445 L284.5 456.4" stroke-width="0.6"/>
<g transform="translate(299.2 473.7) rotate(21.5)">
<ellipse cx="0" cy="0" rx="1.1" ry="1.3" stroke-width="1.4"/>
<line x1="-7.5" y1="0" x2="-1.8" y2="0" stroke-width="0.6"/>
<line x1="1.8" y1="0" x2="6" y2="0" stroke-width="0.6"/>
<line x1="7" y1="-2.9" x2="9.2" y2="-2.9" stroke-width="0.9"/>
<line x1="7" y1="2.9" x2="9.2" y2="2.9" stroke-width="0.9"/>
<ellipse cx="7" cy="0" rx="1.3" ry="2.9" stroke-width="0.9"/>
<path d="M9.2 -2.9 A1.3 2.9 0 0 1 9.2 2.9" stroke-width="0.9"/>
<line x1="9.2" y1="-1.9" x2="13.4" y2="-1.9" stroke-width="0.8"/>
<line x1="9.2" y1="1.9" x2="13.4" y2="1.9" stroke-width="0.8"/>
<ellipse cx="13.4" cy="0" rx="0.85" ry="1.9" stroke-width="0.8"/>
<path d="M9.2 -1.9 A0.85 1.9 0 0 0 9.2 1.9" stroke-width="0.8"/>
<line x1="14.4" y1="0" x2="17" y2="0" stroke-width="0.6"/>
<ellipse cx="19.4" cy="0" rx="1.51" ry="3.6" stroke-width="1"/>
<ellipse cx="21.44" cy="0" rx="1.51" ry="3.6" stroke-width="1"/>
<ellipse cx="23.48" cy="0" rx="1.51" ry="3.6" stroke-width="1"/>
<ellipse cx="25.52" cy="0" rx="1.51" ry="3.6" stroke-width="1"/>
<ellipse cx="27.56" cy="0" rx="1.51" ry="3.6" stroke-width="1"/>
<ellipse cx="29.6" cy="0" rx="1.51" ry="3.6" stroke-width="1"/>
<line x1="19.4" y1="-3.6" x2="29.6" y2="-3.6" stroke-width="0.6"/>
<line x1="19.4" y1="3.6" x2="29.6" y2="3.6" stroke-width="0.6"/>
<line x1="31.6" y1="0" x2="36.6" y2="0" stroke-width="0.6"/>
<ellipse cx="37.6" cy="0" rx="0.8" ry="1.7" stroke-width="0.9"/>
<ellipse cx="38.8" cy="0" rx="0.8" ry="1.7" stroke-width="0.9"/>
<ellipse cx="40" cy="0" rx="0.8" ry="1.7" stroke-width="0.9"/>
<ellipse cx="41.2" cy="0" rx="0.8" ry="1.7" stroke-width="0.9"/>
<ellipse cx="42.4" cy="0" rx="0.8" ry="1.7" stroke-width="0.9"/>
<ellipse cx="43.6" cy="0" rx="0.8" ry="1.7" stroke-width="0.9"/>
<line x1="45" y1="0" x2="49.4" y2="0" stroke-width="0.6"/>
<ellipse cx="52.2" cy="0" rx="2.1" ry="3.3" stroke-width="1.3"/>
<line x1="55.4" y1="0" x2="62" y2="0" stroke-width="0.6"/>
<ellipse cx="63.5" cy="0" rx="1.6" ry="3.7" stroke-width="0.9"/>
<ellipse cx="64.8" cy="0" rx="1.6" ry="3.7" stroke-width="0.9"/>
<ellipse cx="66.1" cy="0" rx="1.6" ry="3.7" stroke-width="0.9"/>
<ellipse cx="67.4" cy="0" rx="1.6" ry="3.7" stroke-width="0.9"/>
<ellipse cx="68.7" cy="0" rx="1.6" ry="3.7" stroke-width="0.9"/>
<line x1="63.5" y1="-3.7" x2="69.4" y2="-3.7" stroke-width="0.6"/>
<line x1="63.5" y1="3.7" x2="69.4" y2="3.7" stroke-width="0.6"/>
<path d="M69.6 -4.8 L73.6 -4.8 A2.7 4.8 0 0 1 73.6 4.8 L69.6 4.8 A2.1 4.8 0 0 1 69.6 -4.8 Z" stroke-width="0.9"/>
<path d="M73.6 -4.8 A2.2 4.8 0 0 0 73.6 4.8" stroke-width="0.7"/>
</g>
<text x="307.2" y="451.2" textLength="10.3" lengthAdjust="spacingAndGlyphs" font-size="9.4">F240</text>
<line x1="310.4" y1="453.2" x2="300" y2="472"/>
<text x="317.4" y="459" textLength="10.3" lengthAdjust="spacingAndGlyphs" font-size="9.4">F239</text>
<line x1="318" y1="464" x2="312" y2="476.4"/>
<text x="329.6" y="464.4" textLength="10.3" lengthAdjust="spacingAndGlyphs" font-size="9.4">F238</text>
<line x1="329" y1="469" x2="322.4" y2="481"/>
<text x="343.6" y="472.4" textLength="10.3" lengthAdjust="spacingAndGlyphs" font-size="9.4">F237</text>
<line x1="344" y1="476.4" x2="338" y2="487"/>
<text x="357.6" y="479" textLength="10.3" lengthAdjust="spacingAndGlyphs" font-size="9.4">F236</text>
<line x1="357" y1="481" x2="348.4" y2="492"/>
<text x="372" y="485.4" textLength="10.3" lengthAdjust="spacingAndGlyphs" font-size="9.4">F235</text>
<line x1="371" y1="488" x2="364" y2="497"/>
<g transform="translate(275.3 493.3) rotate(21.5)">
<line x1="-12" y1="0" x2="-1.6" y2="0" stroke-width="0.6"/>
<ellipse cx="0.6" cy="0" rx="1.6" ry="3.8" stroke-width="1"/>
<ellipse cx="2.96" cy="0" rx="1.6" ry="3.8" stroke-width="1"/>
<ellipse cx="5.32" cy="0" rx="1.6" ry="3.8" stroke-width="1"/>
<ellipse cx="7.68" cy="0" rx="1.6" ry="3.8" stroke-width="1"/>
<ellipse cx="10.04" cy="0" rx="1.6" ry="3.8" stroke-width="1"/>
<ellipse cx="12.4" cy="0" rx="1.6" ry="3.8" stroke-width="1"/>
<line x1="0.6" y1="-3.8" x2="12.4" y2="-3.8" stroke-width="0.6"/>
<line x1="0.6" y1="3.8" x2="12.4" y2="3.8" stroke-width="0.6"/>
<line x1="14.6" y1="0" x2="16.4" y2="0" stroke-width="0.6"/>
<line x1="17" y1="-1.3" x2="26.6" y2="-1.3" stroke-width="0.7"/>
<line x1="17" y1="1.3" x2="26.6" y2="1.3" stroke-width="0.7"/>
<ellipse cx="17" cy="0" rx="0.65" ry="1.3" stroke-width="0.7"/>
<path d="M26.6 -1.3 A0.65 1.3 0 0 1 26.6 1.3" stroke-width="0.7"/>
<path d="M26.6 -1.3 L29.4 -3.1"/>
<path d="M26.6 1.3 L29.4 3.1"/>
<ellipse cx="30" cy="0" rx="1.4" ry="3.1" stroke-width="0.9"/>
<ellipse cx="31.2" cy="0" rx="1.4" ry="3.1" stroke-width="0.9"/>
<ellipse cx="32.4" cy="0" rx="1.4" ry="3.1" stroke-width="0.9"/>
<ellipse cx="33.6" cy="0" rx="1.4" ry="3.1" stroke-width="0.9"/>
<line x1="29.4" y1="-3.1" x2="34" y2="-3.1" stroke-width="0.6"/>
<line x1="29.4" y1="3.1" x2="34" y2="3.1" stroke-width="0.6"/>
<line x1="34.4" y1="-3.4" x2="41.4" y2="-3.4" stroke-width="0.9"/>
<line x1="34.4" y1="3.4" x2="41.4" y2="3.4" stroke-width="0.9"/>
<ellipse cx="41.4" cy="0" rx="1.53" ry="3.4" stroke-width="0.9"/>
<path d="M34.4 -3.4 A1.53 3.4 0 0 0 34.4 3.4" stroke-width="0.9"/>
<line x1="43.2" y1="0" x2="46.4" y2="0" stroke-width="0.6"/>
<ellipse cx="48.8" cy="0" rx="1.8" ry="2.8" stroke-width="1.2"/>
<ellipse cx="56.2" cy="0" rx="1.8" ry="2.8" stroke-width="1.2"/>
<line x1="51" y1="0" x2="54" y2="0" stroke-width="0.6"/>
<line x1="58.4" y1="0" x2="61" y2="0" stroke-width="0.6"/>
<path d="M63.4 -4.5 L71.6 -4.5 A3.2 4.5 0 0 1 71.6 4.5 L63.4 4.5 A2 4.5 0 0 1 63.4 -4.5 Z" stroke-width="0.9"/>
<path d="M71.2 -4.5 A2 4.5 0 0 0 71.2 4.5" stroke-width="0.7"/>
<path d="M63.4 -4.5 A2 4.5 0 0 1 63.4 4.5" stroke-width="0.7"/>
</g>
<text x="284.4" y="540.6" textLength="10.3" lengthAdjust="spacingAndGlyphs" font-size="9.4">F231</text>
<line x1="285.2" y1="501.4" x2="291.4" y2="530.6"/>
<text x="304" y="548.4" textLength="10.3" lengthAdjust="spacingAndGlyphs" font-size="9.4">F232</text>
<line x1="308.6" y1="510" x2="311" y2="538.6"/>
<text x="321.6" y="555.6" textLength="10.3" lengthAdjust="spacingAndGlyphs" font-size="9.4">F233</text>
<line x1="320.8" y1="514.4" x2="329" y2="544.6"/>
<line x1="327.6" y1="516.4" x2="329" y2="544.6"/>
<text x="343.4" y="561.6" textLength="10.3" lengthAdjust="spacingAndGlyphs" font-size="9.4">F234</text>
<line x1="342.6" y1="524.6" x2="350.6" y2="550.6"/>
<path d="M249 479.5 L254 476 L260.4 477.4 L263 476.5 C266 475.6 269 477.8 268.8 480.8 C268.6 483.6 266 485 263.6 483.8 C264 486 262.4 488.2 260.4 488.2 C258.8 488.2 257.8 487.4 257.4 487.2 L249.2 484.5 Z" stroke-width="0.9" fill="#fff"/>
<path d="M249 479.5 L250.6 481.2 L258.4 481.6 C260.4 481.8 261.6 482.6 262.4 483.4 M250.6 481.2 L255.4 478.6 L254 476 M255.4 478.6 L260.4 479.4 M250.6 481.2 L250.8 484.8" stroke-width="0.7"/>
<ellipse cx="265.7" cy="480.5" rx="2" ry="2.7" stroke-width="1" transform="rotate(15 265.7 480.5)"/>
<ellipse cx="266.1" cy="480.6" rx="1" ry="1.5" stroke-width="0.7" transform="rotate(15 266.1 480.6)"/>
<ellipse cx="260.5" cy="485.5" rx="2" ry="2.4" stroke-width="1.1" transform="rotate(15 260.5 485.5)"/>
<ellipse cx="260.7" cy="485.6" rx="0.8" ry="1" stroke-width="0.9"/>
<ellipse cx="261.3" cy="489.7" rx="1.6" ry="1.3" stroke-width="0.7"/>
<line x1="241.6" y1="493.2" x2="252" y2="486.3" stroke-width="0.6"/>
<path d="M258 488.6 L229 507.7 L256.3 518.3 L247 528.3 L247 541" stroke-width="0.7" stroke-dasharray="6.5 1.2 1.2 1.2" stroke-linecap="butt"/>
<path d="M229 523.7 L233 521.7 L245.4 527.6 Q247.6 528.6 247.6 531 L247.8 543 L244.6 544.2 L244 533.4 Q243.8 531.6 241.8 530.8 L231 527.7 Z" stroke-width="0.9"/>
<path d="M229 523.7 L229.4 526.6 L231 527.7 M230.6 524.6 L242.6 530.2 Q245 531.4 245.2 533.6 L245.6 543.8" stroke-width="0.6"/>
<ellipse cx="239.4" cy="534.4" rx="0.8" ry="1" stroke-width="0.7"/>
<ellipse cx="245.8" cy="542.2" rx="0.8" ry="1" stroke-width="0.7"/>
<line x1="231.7" y1="541" x2="238.9" y2="535" stroke-width="0.6"/>
<ellipse cx="230.1" cy="542.7" rx="1.6" ry="2.1" stroke-width="1.3" transform="rotate(20 230.1 542.7)"/>
<g transform="translate(214.6 557.4) rotate(-42.5)">
<line x1="0" y1="-2.3" x2="14.2" y2="-2.3" stroke-width="0.8"/>
<line x1="0" y1="2.3" x2="14.2" y2="2.3" stroke-width="0.8"/>
<ellipse cx="0" cy="0" rx="1.15" ry="2.3" stroke-width="0.8"/>
<path d="M14.2 -2.3 A1.15 2.3 0 0 1 14.2 2.3" stroke-width="0.8"/>
</g>
<line x1="246.6" y1="542.6" x2="255.6" y2="545.4" stroke-width="0.6"/>
<line x1="264.4" y1="549.2" x2="266.8" y2="550" stroke-width="0.6"/>
<g transform="translate(256.4 545.5) rotate(26)">
<ellipse cx="0.6" cy="0" rx="0.9" ry="1.9" stroke-width="1"/>
<ellipse cx="1.8" cy="0" rx="0.9" ry="1.9" stroke-width="1"/>
<ellipse cx="3" cy="0" rx="0.9" ry="1.9" stroke-width="1"/>
<ellipse cx="4.2" cy="0" rx="0.9" ry="1.9" stroke-width="1"/>
<ellipse cx="5.4" cy="0" rx="0.9" ry="1.9" stroke-width="1"/>
<ellipse cx="6.6" cy="0" rx="0.9" ry="1.9" stroke-width="1"/>
</g>
<ellipse cx="269.7" cy="551" rx="2" ry="2.4" stroke-width="1.3" transform="rotate(20 269.7 551)"/>
<ellipse cx="270.2" cy="551.2" rx="0.8" ry="1" stroke-width="0.8"/>
<text x="196.4" y="549.2" textLength="10.3" lengthAdjust="spacingAndGlyphs" font-size="9.4">F226</text>
<line x1="208.3" y1="546.3" x2="227.8" y2="542.2"/>
<text x="197" y="579.6" textLength="10.3" lengthAdjust="spacingAndGlyphs" font-size="9.4">F227</text>
<line x1="205" y1="572" x2="214" y2="559.6"/>
<text x="226.4" y="579.6" textLength="10.3" lengthAdjust="spacingAndGlyphs" font-size="9.4">F228</text>
<line x1="233" y1="572" x2="243.6" y2="544.6"/>
<text x="246.4" y="579.6" textLength="10.3" lengthAdjust="spacingAndGlyphs" font-size="9.4">F229</text>
<line x1="255" y1="572.4" x2="260.2" y2="550.6"/>
<text x="271" y="579.6" textLength="10.3" lengthAdjust="spacingAndGlyphs" font-size="9.4">F230</text>
<line x1="276" y1="572.4" x2="270.6" y2="553.8"/>
</g>
</svg>
</body></html>
